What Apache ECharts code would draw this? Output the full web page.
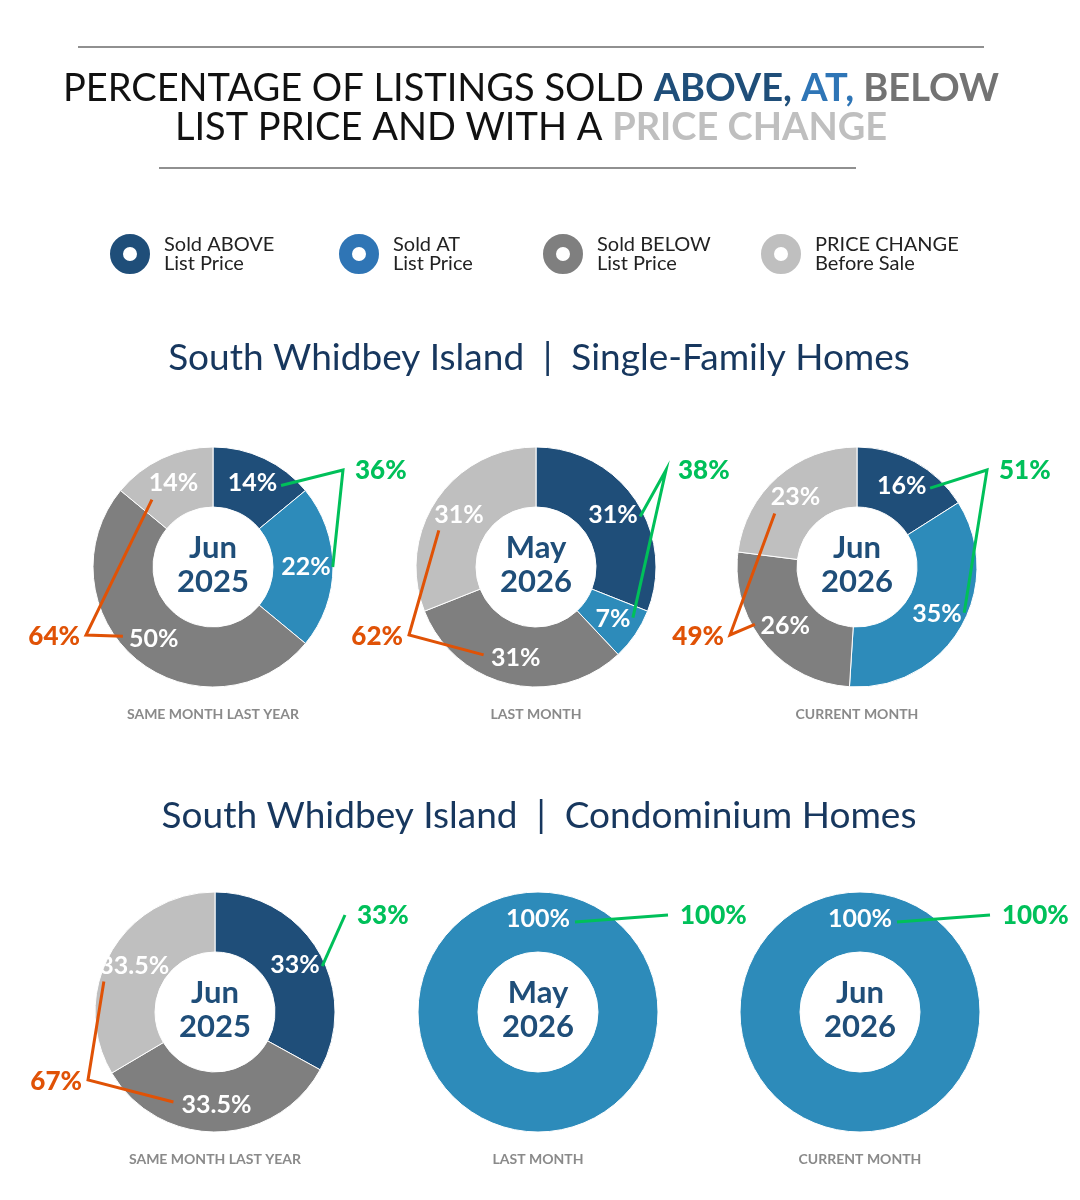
<!DOCTYPE html>
<html>
<head>
<meta charset="utf-8">
<script src="https://cdn.jsdelivr.net/npm/echarts@6/dist/echarts.min.js"></script>
<style>
  html, body { margin: 0; padding: 0; background: #fff; }
  #chart { width: 1080px; height: 1200px; }
</style>
</head>
<body>
<div id="chart"></div>
<script>
// categories, in the clockwise order of the slices
const categories = ['Sold ABOVE\nList Price', 'Sold AT\nList Price', 'Sold BELOW\nList Price', 'PRICE CHANGE\nBefore Sale'];
const periods = ['Jun\n2025', 'May\n2026', 'Jun\n2026'];
const captions = ['SAME MONTH LAST YEAR', 'LAST MONTH', 'CURRENT MONTH'];

// South Whidbey Island, single-family homes
const sfhAbove = [14, 31, 16];
const sfhAt = [22, 7, 35];
const sfhBelow = [50, 31, 26];
const sfhPriceChange = [14, 31, 23];

// South Whidbey Island, condominium homes
const condoAbove = [33, 0, 0];
const condoAt = [0, 100, 100];
const condoBelow = [33.5, 0, 0];
const condoPriceChange = [33.5, 0, 0];

const sliceColors = ['#1f4e79', '#2d8bba', '#7f7f7f', '#bfbfbf'];
const legendColors = ['#1f4e79', '#2f75b5', '#7f7f7f', '#bfbfbf'];
const green = '#00c05a';
const orange = '#e05206';
const navy = '#17375e';
const font = 'Lato';

const R0 = 60, R1 = 120;
const rows = [
  { cy: 567, cx: [213, 536, 857], capY: 714, head: 358, title: 'South Whidbey Island  |  Single-Family Homes',
    data: [sfhAbove, sfhAt, sfhBelow, sfhPriceChange] },
  { cy: 1012, cx: [215, 538, 860], capY: 1159, head: 816, title: 'South Whidbey Island  |  Condominium Homes',
    data: [condoAbove, condoAt, condoBelow, condoPriceChange] }
];

const measure = document.createElement('canvas').getContext('2d');
function textW(str, f) { measure.font = f; return measure.measureText(str).width; }
function fmt(v) { return (Math.round(v * 10) / 10) + '%'; }

const series = [];
const graphics = [];

// rules and page title
graphics.push({ type: 'line', z: 100, shape: { x1: 78, y1: 47, x2: 984, y2: 47 }, style: { stroke: '#222', lineWidth: 1.2 } });
graphics.push({ type: 'line', z: 100, shape: { x1: 159, y1: 168, x2: 856, y2: 168 }, style: { stroke: '#222', lineWidth: 1.2 } });
graphics.push({
  type: 'text', z: 100, x: 531, y: 108,
  style: {
    text: '{a|PERCENTAGE OF LISTINGS SOLD }{b|ABOVE, }{c|AT, }{d|BELOW}\n{a|LIST PRICE AND WITH A }{e|PRICE CHANGE}',
    align: 'center', verticalAlign: 'middle', lineHeight: 39,
    rich: {
      a: { fontFamily: font, fontSize: 38, fill: '#111', lineHeight: 39 },
      b: { fontFamily: font, fontSize: 38, fontWeight: 'bold', fill: '#1f4e79', lineHeight: 39 },
      c: { fontFamily: font, fontSize: 38, fontWeight: 'bold', fill: '#2e75b6', lineHeight: 39 },
      d: { fontFamily: font, fontSize: 38, fontWeight: 'bold', fill: '#737373', lineHeight: 39 },
      e: { fontFamily: font, fontSize: 38, fontWeight: 'bold', fill: '#bfbfbf', lineHeight: 39 }
    }
  }
});

rows.forEach(function (row) {
  graphics.push({
    type: 'text', z: 100, x: 539, y: row.head,
    style: { text: row.title, align: 'center', verticalAlign: 'middle', fontFamily: font, fontSize: 37, fill: navy }
  });

  row.cx.forEach(function (cx, k) {
    const cy = row.cy;
    const vals = row.data.map(function (arr) { return arr[k]; });
    const items = [];
    vals.forEach(function (v, i) {
      if (v > 0) items.push({ name: categories[i], value: v, idx: i, itemStyle: { color: sliceColors[i] } });
    });
    const total = items.reduce(function (s, d) { return s + d.value; }, 0);
    // a lone slice starts at the bottom so its label sits at the top
    const start = items.length === 1 ? Math.PI : 0;

    series.push({
      type: 'pie',
      center: [cx, cy],
      radius: [R0, R1],
      startAngle: items.length === 1 ? -90 : 90,
      clockwise: true,
      silent: true,
      animation: false,
      label: {
        show: true, position: 'inside', color: '#fff', fontFamily: font, fontSize: 25, fontWeight: 'bold',
        formatter: function (p) { return fmt(p.value); }
      },
      labelLine: { show: false },
      emphasis: { disabled: true },
      itemStyle: { borderColor: '#fff', borderWidth: 1 },
      data: items.map(function (d) { return { name: d.name, value: d.value, itemStyle: d.itemStyle }; })
    });

    // where the library puts each inside label
    const pos = {};
    let acc = 0;
    items.forEach(function (d) {
      const th = start + (acc + d.value / 2) / total * Math.PI * 2;
      const r = (R0 + R1) / 2;
      const w = textW(fmt(d.value), 'bold 25px ' + font);
      pos[d.idx] = { x: cx + r * Math.sin(th), y: cy - r * Math.cos(th), w: w };
      acc += d.value;
    });

    // green callout: above + at
    const up = vals[0] + vals[1];
    if (up > 0) {
      const ex = cx + 130, ey = cy - 97;
      const pts = [];
      if (pos[0]) pts.push([pos[0].x + pos[0].w / 2 + 5, pos[0].y]);
      pts.push([ex, ey]);
      if (pos[1]) pts.push([pos[1].x + pos[1].w / 2 + 5, pos[1].y]);
      graphics.push({ type: 'polyline', z: 100, shape: { points: pts }, style: { stroke: green, lineWidth: 3, fill: null } });
      graphics.push({
        type: 'text', z: 100, x: ex + 12, y: ey + 1,
        style: { text: fmt(up), align: 'left', verticalAlign: 'middle', fontFamily: font, fontSize: 26, fontWeight: 900, fill: green }
      });
    }

    // orange callout: below + price change
    const down = vals[2] + vals[3];
    if (down > 0) {
      const ex = cx - 127, ey = cy + 68;
      const pts = [];
      if (pos[3]) pts.push([pos[3].x - pos[3].w / 2 + 2, pos[3].y + 14]);
      pts.push([ex, ey]);
      if (pos[2]) pts.push([pos[2].x - pos[2].w / 2 - 8, pos[2].y]);
      graphics.push({ type: 'polyline', z: 100, shape: { points: pts }, style: { stroke: orange, lineWidth: 3, fill: null } });
      graphics.push({
        type: 'text', z: 100, x: ex - 6, y: ey + 2,
        style: { text: fmt(down), align: 'right', verticalAlign: 'middle', fontFamily: font, fontSize: 26, fontWeight: 900, fill: orange }
      });
    }

    // period in the hole
    graphics.push({
      type: 'text', z: 100, x: cx, y: cy - 2,
      style: { text: periods[k], align: 'center', verticalAlign: 'middle', lineHeight: 34, fontFamily: font, fontSize: 31, fontWeight: 'bold', fill: '#1f4e79' }
    });
    // caption
    graphics.push({
      type: 'text', z: 100, x: cx, y: row.capY,
      style: { text: captions[k], align: 'center', verticalAlign: 'middle', fontFamily: font, fontSize: 14, fontWeight: 'bold', fill: '#8a8a8a' }
    });
  });
});

// ring-shaped legend marker
const ring = 'path://M0,21A21,21,0,1,1,42,21A21,21,0,1,1,0,21Z M15,21A6,6,0,1,0,27,21A6,6,0,1,0,15,21Z';
const legendLeft = [108, 337, 541, 759];
const legends = categories.map(function (name, i) {
  return {
    left: legendLeft[i], top: 232, padding: 0, orient: 'horizontal', selectedMode: false,
    icon: ring, itemWidth: 42, itemHeight: 42,
    data: [{ name: name, itemStyle: { color: legendColors[i] } }],
    textStyle: { fontFamily: font, fontSize: 20, lineHeight: 19, color: '#222', padding: [0, 0, 0, 8] }
  };
});

const chart = echarts.init(document.getElementById('chart'));
chart.setOption({
  backgroundColor: '#fff',
  animation: false,
  legend: legends,
  series: series,
  graphic: graphics
});
</script>
</body>
</html>
